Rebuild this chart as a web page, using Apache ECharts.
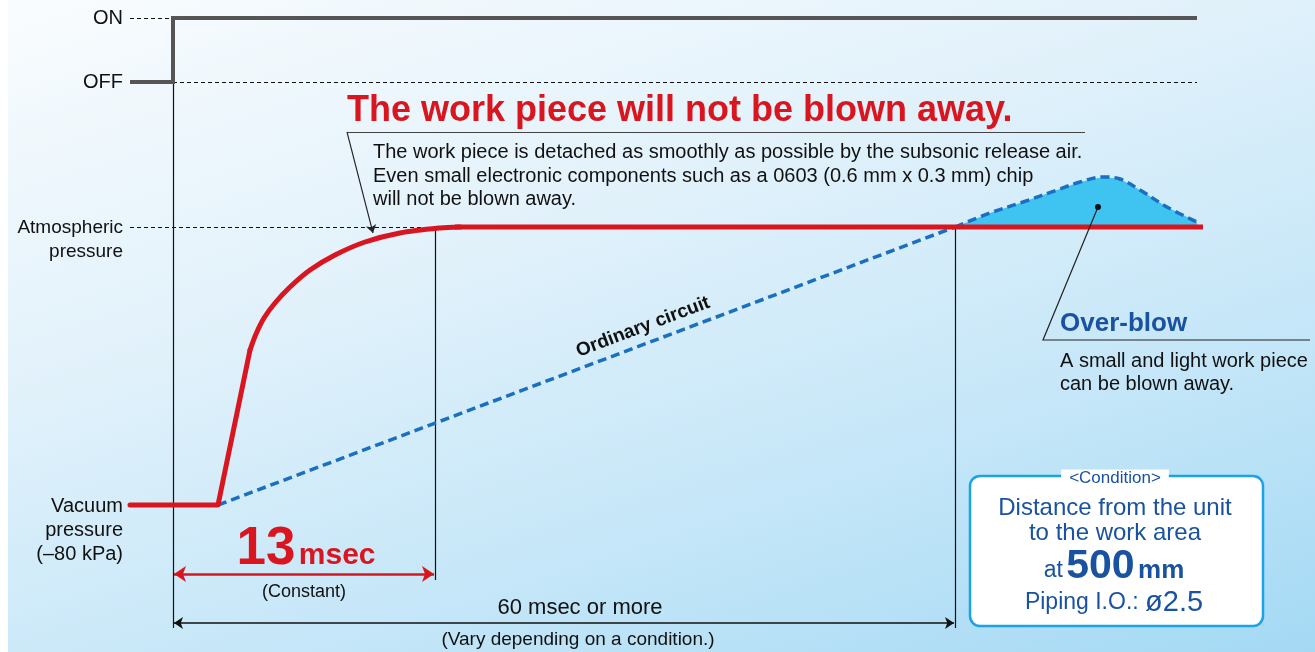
<!DOCTYPE html>
<html><head><meta charset="utf-8">
<script src="https://cdn.jsdelivr.net/npm/echarts@6/dist/echarts.min.js"></script>
<style>
html,body{margin:0;padding:0;background:#fff}
#c{width:1315px;height:652px;background:linear-gradient(to right,#fff 0,#fff 8px,transparent 8px),linear-gradient(162deg,#f9fcfe 0%,#e3f2fb 35%,#c4e6f8 70%,#a4d9f4 100%)}
</style>
</head><body><div id="c"></div>
<script>
const SANS = "'Liberation Sans',Arial,sans-serif";

// Diagram units: x = position along the time axis, y = signal / pressure level (drawn top-down)
const levelLabels = ['ON', 'OFF', 'Atmospheric\npressure', 'Vacuum\npressure\n(–80 kPa)'];
const levelY = [18, 82, 227, 505];
const valveSignal = [[130, 82], [173, 82], [173, 18], [1197, 18]];
const releaseRise = [[130, 505], [218, 505], [250, 350]];
const releaseCurve = [[250, 350], [256, 334], [264, 318], [275, 303], [290, 287], [310, 270], [335, 255], [365, 242], [400, 233], [440, 228], [460, 227]];
const releaseFlat = [[455, 227], [1203, 227]];
const ordinaryRamp = [[218, 505], [955, 227]];
const overblowHump = [[955, 227], [990, 213], [1023, 202], [1057, 190], [1080, 182], [1103, 177], [1120, 179], [1140, 190], [1167, 207], [1197, 222]];
const markerX = [173, 435, 955];
const spanConstant = [173, 435];
const spanTotal = [173, 955];

const chart = echarts.init(document.getElementById('c'), null, {renderer: 'canvas'});

function txt(x, y, text, label) {
  return {value: [x, y], label: Object.assign({show: true, position: 'inside', formatter: text, color: '#111', fontFamily: SANS, verticalAlign: 'middle', opacity: 1}, label)};
}
const BLUE = '#1a52a2';
const RED = '#d9161f';

const texts = [
  txt(123, levelY[0], levelLabels[0], {align: 'right', fontSize: 20}),
  txt(123, levelY[1], levelLabels[1], {align: 'right', fontSize: 20}),
  txt(123, levelY[2] + 13, levelLabels[2], {align: 'right', fontSize: 19, lineHeight: 24}),
  txt(123, levelY[3] + 25, levelLabels[3], {align: 'right', fontSize: 20, lineHeight: 24}),
  txt(347, 111, 'The work piece will not be blown away.', {align: 'left', fontSize: 36, fontWeight: 'bold', color: RED}),
  txt(373, 176, 'The work piece is detached as smoothly as possible by the subsonic release air.\nEven small electronic components such as a 0603 (0.6 mm x 0.3 mm) chip\nwill not be blown away.', {align: 'left', fontSize: 20, lineHeight: 23.5}),
  txt(643, 327, 'Ordinary circuit', {align: 'center', fontSize: 19, fontWeight: 'bold', rotate: 20.7}),
  txt(1060, 324, 'Over-blow', {align: 'left', fontSize: 26, fontWeight: 'bold', color: BLUE}),
  txt(1060, 372.5, 'A small and light work piece\ncan be blown away.', {align: 'left', fontSize: 20, lineHeight: 23}),
  txt(306, 549, '{a|13} {b|msec}', {align: 'center', rich: {
    a: {fontSize: 53, fontWeight: 'bold', color: RED, fontFamily: SANS, letterSpacing: -4},
    b: {fontSize: 30, fontWeight: 'bold', color: RED, fontFamily: SANS, padding: [14, 0, 0, 0]}
  }}),
  txt(304, 592, '(Constant)', {align: 'center', fontSize: 18}),
  txt(580, 608, '60 msec or more', {align: 'center', fontSize: 22}),
  txt(578, 640, '(Vary depending on a condition.)', {align: 'center', fontSize: 19}),
  txt(1115, 478, '<Condition>', {align: 'center', fontSize: 17, color: BLUE, backgroundColor: '#fff', padding: [0, 8]}),
  txt(1115, 521, 'Distance from the unit\nto the work area', {align: 'center', fontSize: 24, lineHeight: 25, color: BLUE}),
  txt(1114, 567, '{a|at}{s| }{b|500}{s| }{c|mm}', {align: 'center', rich: {
    a: {fontSize: 23, color: BLUE, fontFamily: SANS, padding: [8, 0, 0, 0]},
    s: {fontSize: 12, color: BLUE, fontFamily: SANS},
    b: {fontSize: 41, fontWeight: 'bold', color: BLUE, fontFamily: SANS},
    c: {fontSize: 26, fontWeight: 'bold', color: BLUE, fontFamily: SANS, padding: [8, 0, 0, 0]}
  }}),
  txt(1114, 603, '{a|Piping I.O.: }{b|ø2.5}', {align: 'center', rich: {
    a: {fontSize: 23, color: BLUE, fontFamily: SANS},
    b: {fontSize: 29, color: BLUE, fontFamily: SANS}
  }})
];

const option = {
  animation: false,
  grid: {left: 0, right: 0, top: 0, bottom: 0},
  xAxis: {type: 'value', min: 0, max: 1315, show: false},
  yAxis: {type: 'value', min: 0, max: 652, inverse: true, show: false},
  series: [
    {
      type: 'custom', z: 1, data: [[0]],
      renderItem: (params, api) => {
        const pts = overblowHump.map(p => api.coord(p));
        pts.push(api.coord([overblowHump[overblowHump.length - 1][0], levelY[2]]));
        return {type: 'polygon', shape: {points: pts, smooth: 0}, style: {fill: '#3fc3f1'}};
      }
    },
    {
      type: 'custom', z: 1, data: [[970, 476, 1263, 626]],
      renderItem: (params, api) => {
        const p0 = api.coord([api.value(0), api.value(1)]);
        const p1 = api.coord([api.value(2), api.value(3)]);
        return {type: 'rect', shape: {x: p0[0], y: p0[1], width: p1[0] - p0[0], height: p1[1] - p0[1], r: 10}, style: {fill: '#fff', stroke: '#1ba3e4', lineWidth: 2.5}};
      }
    },
    {
      type: 'lines', coordinateSystem: 'cartesian2d', z: 2, symbol: 'none', silent: true,
      lineStyle: {color: '#111', width: 1, type: [4, 3], opacity: 1},
      data: [
        {coords: [[130, levelY[0]], [172, levelY[0]]]},
        {coords: [[173, levelY[1]], [1197, levelY[1]]]},
        {coords: [[130, levelY[2]], [markerX[2], levelY[2]]]}
      ]
    },
    {
      type: 'lines', coordinateSystem: 'cartesian2d', z: 2, symbol: 'none', silent: true,
      lineStyle: {color: '#111', width: 1.2, opacity: 1},
      data: [
        {coords: [[markerX[0], levelY[1]], [markerX[0], 628]]},
        {coords: [[markerX[1], levelY[2]], [markerX[1], 580]]},
        {coords: [[markerX[2], levelY[2]], [markerX[2], 628]]}
      ]
    },
    {
      type: 'lines', coordinateSystem: 'cartesian2d', z: 3, symbol: ['arrow', 'arrow'], symbolSize: [12, 12], silent: true,
      lineStyle: {color: RED, width: 2.5, opacity: 1},
      data: [{coords: [[spanConstant[0] + 1, 574], [spanConstant[1] - 1, 574]]}]
    },
    {
      type: 'lines', coordinateSystem: 'cartesian2d', z: 3, symbol: ['arrow', 'arrow'], symbolSize: [9, 9], silent: true,
      lineStyle: {color: '#111', width: 1.5, opacity: 1},
      data: [{coords: [[spanTotal[0] + 1, 623], [spanTotal[1] - 1, 623]]}]
    },
    {
      type: 'lines', coordinateSystem: 'cartesian2d', z: 3, symbol: 'none', silent: true,
      lineStyle: {color: '#444', width: 1.2, opacity: 1},
      data: [{coords: [[1085, 132], [347, 132]]}]
    },
    {
      type: 'lines', coordinateSystem: 'cartesian2d', z: 3, symbol: ['none', 'arrow'], symbolSize: [8, 8], silent: true,
      lineStyle: {color: '#222', width: 1.1, opacity: 1},
      data: [{coords: [[347, 132], [373, 233]]}]
    },
    {
      type: 'lines', coordinateSystem: 'cartesian2d', polyline: true, z: 6, symbol: 'none', silent: true,
      lineStyle: {color: '#222', width: 1.2, opacity: 1},
      data: [{coords: [[1098, 207], [1043, 340], [1310, 340]]}]
    },
    {
      type: 'scatter', z: 7, data: [[1098, 207]], symbol: 'circle', symbolSize: 6, silent: true,
      itemStyle: {color: '#111', opacity: 1}
    },
    {
      type: 'line', z: 4, data: ordinaryRamp, symbol: 'none', silent: true,
      lineStyle: {color: '#1a6fc0', width: 3.5, type: [9, 5]}
    },
    {
      type: 'line', z: 4, data: overblowHump, symbol: 'none', smooth: 0.35, silent: true,
      lineStyle: {color: '#1a6fc0', width: 3.5, type: [9, 5]}
    },
    {
      type: 'line', z: 5, data: releaseRise, symbol: 'none', silent: true,
      lineStyle: {color: RED, width: 5, join: 'round', cap: 'round'}
    },
    {
      type: 'line', z: 5, data: releaseCurve, symbol: 'none', smooth: 0.3, silent: true,
      lineStyle: {color: RED, width: 5, cap: 'round'}
    },
    {
      type: 'line', z: 5, data: releaseFlat, symbol: 'none', silent: true,
      lineStyle: {color: RED, width: 5}
    },
    {
      type: 'line', z: 5, data: valveSignal, symbol: 'none', silent: true,
      lineStyle: {color: '#555', width: 4, join: 'miter'}
    },
    {
      type: 'scatter', z: 10, data: texts, symbolSize: 1, silent: true,
      itemStyle: {color: 'rgba(0,0,0,0)', opacity: 1}
    }
  ]
};
chart.setOption(option);
</script>
</body></html>
